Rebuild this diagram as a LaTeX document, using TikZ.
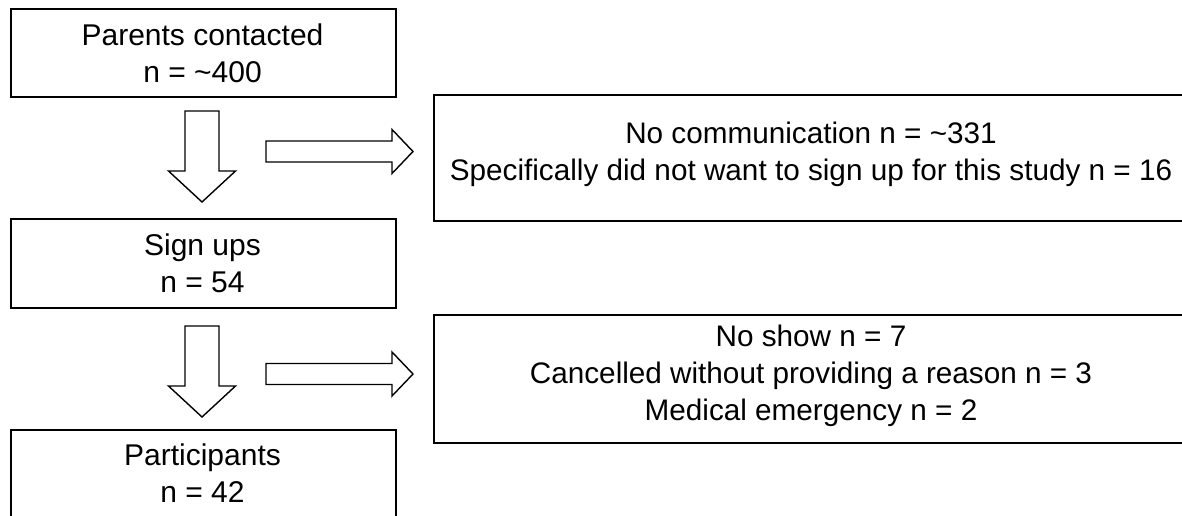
\documentclass[tikz,border=0pt]{standalone}
\usepackage{fontspec}
\setmainfont{Liberation Sans}
\begin{document}
\begin{tikzpicture}[x=1pt,y=-1pt,
  box/.style={draw=black, line width=1.6pt, rectangle, inner sep=0pt, anchor=north west},
  lbl/.style={anchor=base, inner sep=0pt, font=\fontsize{30}{37}\selectfont},
  rlbl/.style={anchor=base, inner sep=0pt, font=\fontsize{29.7}{37}\selectfont},
  blockarrow/.style={draw=black, line width=1.4pt, fill=white, line join=miter},
  blockdown/.pic={
    \draw[blockarrow] (-17,0) -- (17,0) -- (17,60) -- (33.5,60) -- (0,91)
      -- (-33.5,60) -- (-17,60) -- cycle;
  },
  blockright/.pic={
    \draw[blockarrow] (0,-10.5) -- (126,-10.5) -- (126,-22) -- (147,0)
      -- (126,22) -- (126,10.5) -- (0,10.5) -- cycle;
  }]
\useasboundingbox (0,0) rectangle (1182,515);

\begin{scope}
  \clip (0,0) rectangle (1182,515);
  % left column: stages of recruitment
  \node[box, minimum width=385pt, minimum height=88pt] (contacted) at (10,8) {};
  \node[box, minimum width=385pt, minimum height=89pt] (signups) at (10,218) {};
  \node[box, minimum width=385pt, minimum height=120pt] (participants) at (10,429) {};
  % right column: reasons for drop-out
  \node[box, minimum width=756pt, minimum height=126pt] (loss1) at (433,94) {};
  \node[box, minimum width=756pt, minimum height=128pt] (loss2) at (433,314) {};
\end{scope}

% texts of the left column
\node[lbl] (c1) at (202.5,45) {Parents contacted};
\node[lbl] (c2) at (202.5,82) {n = \textasciitilde400};
\node[lbl] (s1) at (202.5,255.5) {Sign ups};
\node[lbl] (s2) at (202.5,292.5) {n = 54};
\node[lbl] (p1) at (202.5,465.5) {Participants};
\node[lbl] (p2) at (202.5,502) {n = 42};

% texts of the right column
\node[rlbl] (l1a) at (811,143) {No communication n = \textasciitilde331};
\node[rlbl] (l1b) at (811,180) {Specifically did not want to sign up for this study n = 16};
\node[rlbl] (l2a) at (811,346) {No show n = 7};
\node[rlbl] (l2b) at (811,383) {Cancelled without providing a reason n = 3};
\node[rlbl] (l2c) at (811,420) {Medical emergency n = 2};

% block arrows
\pic at (202,111) {blockdown};
\pic at (202,326) {blockdown};
\pic at (266,151.5) {blockright};
\pic at (266,374) {blockright};
\end{tikzpicture}
\end{document}
